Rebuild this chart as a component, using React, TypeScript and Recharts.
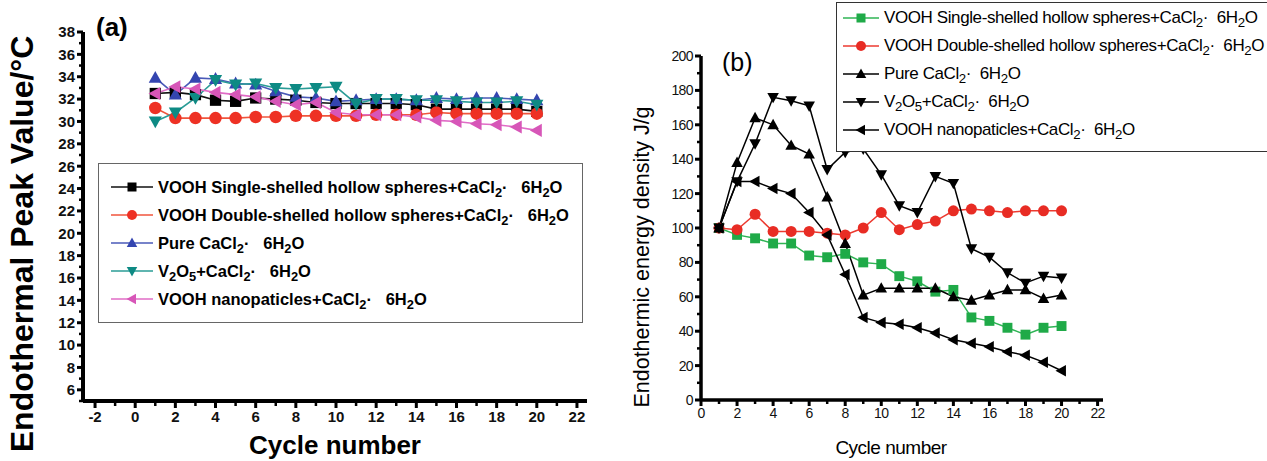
import React from 'react';
import { LineChart, Line, XAxis, YAxis, Legend } from 'recharts';

// cycle index shared by both panels
const cycles = [1, 2, 3, 4, 5, 6, 7, 8, 9, 10, 11, 12, 13, 14, 15, 16, 17, 18, 19, 20];

// (a) endothermal peak value, °C
const aSingle = [32.5, 32.6, 32.4, 31.9, 31.8, 32.1, 32.0, 31.9, 31.7, 31.6, 31.6, 31.6, 31.6, 31.5, 31.1, 31.1, 31.1, 31.1, 31.1, 30.9];
const aDouble = [31.2, 30.3, 30.3, 30.3, 30.3, 30.4, 30.4, 30.5, 30.5, 30.5, 30.5, 30.6, 30.6, 30.6, 30.8, 30.7, 30.7, 30.7, 30.7, 30.7];
const aPure = [33.9, 32.4, 33.9, 33.8, 33.4, 33.3, 32.7, 32.2, 32.1, 31.8, 31.9, 32.0, 32.0, 31.9, 32.1, 32.0, 32.1, 32.1, 32.0, 31.9];
const aV2O5 = [30.0, 30.8, 32.1, 33.7, 33.3, 33.4, 33.0, 32.9, 33.0, 33.1, 31.6, 32.0, 32.0, 31.9, 31.9, 31.8, 31.7, 31.7, 31.8, 31.5];
const aNano = [32.5, 33.1, 32.9, 32.6, 32.4, 32.2, 31.8, 31.5, 31.7, 30.8, 30.6, 30.6, 30.6, 30.4, 30.1, 30.0, 29.8, 29.7, 29.5, 29.2];

// (b) endothermic energy density, J/g
const bSingle = [100, 96, 94, 91, 91, 84, 83, 85, 80, 79, 72, 69, 63, 64, 48, 46, 42, 38, 42, 43];
const bDouble = [100, 99, 108, 98, 98, 98, 97, 96, 100, 109, 99, 102, 104, 110, 111, 110, 109, 110, 110, 110];
const bPure = [100, 138, 164, 160, 148, 143, 118, 91, 61, 65, 65, 65, 65, 60, 58, 61, 64, 64, 59, 61];
const bV2O5 = [100, 127, 149, 176, 174, 171, 134, 144, 146, 131, 113, 109, 130, 126, 88, 83, 74, 68, 72, 71];
const bNano = [100, 127, 127, 123, 120, 109, 96, 73, 48, 45, 44, 42, 39, 35, 33, 31, 28, 26, 22, 17];

// ticks
const aXTicks = [-2, 0, 2, 4, 6, 8, 10, 12, 14, 16, 18, 20, 22];
const aXMinor = [-1, 1, 3, 5, 7, 9, 11, 13, 15, 17, 19, 21];
const aYTicks = [6, 8, 10, 12, 14, 16, 18, 20, 22, 24, 26, 28, 30, 32, 34, 36, 38];
const aYMinor = [5, 7, 9, 11, 13, 15, 17, 19, 21, 23, 25, 27, 29, 31, 33, 35, 37];
const bXTicks = [0, 2, 4, 6, 8, 10, 12, 14, 16, 18, 20, 22];
const bXMinor = [1, 3, 5, 7, 9, 11, 13, 15, 17, 19, 21];
const bYTicks = [0, 20, 40, 60, 80, 100, 120, 140, 160, 180, 200];
const bYMinor = [10, 30, 50, 70, 90, 110, 130, 150, 170, 190];

const namesA = [
  'VOOH Single-shelled hollow spheres+CaCl2·   6H2O',
  'VOOH Double-shelled hollow spheres+CaCl2·   6H2O',
  'Pure CaCl2·   6H2O',
  'V2O5+CaCl2·   6H2O',
  'VOOH nanopaticles+CaCl2·   6H2O',
];
const namesB = [
  'VOOH Single-shelled hollow spheres+CaCl2·  6H2O',
  'VOOH Double-shelled hollow spheres+CaCl2·  6H2O',
  'Pure CaCl2·  6H2O',
  'V2O5+CaCl2·  6H2O',
  'VOOH nanopaticles+CaCl2·  6H2O',
];

const dataA = cycles.map((c, i) => ({
  cycle: c, single: aSingle[i], double: aDouble[i], pure: aPure[i], v2o5: aV2O5[i], nano: aNano[i],
}));
const dataB = cycles.map((c, i) => ({
  cycle: c, single: bSingle[i], double: bDouble[i], pure: bPure[i], v2o5: bV2O5[i], nano: bNano[i],
}));

type Shape = 'square' | 'circle' | 'up' | 'down' | 'left';
interface Series { key: string; name: string; line: string; fill: string; shape: Shape; }

const seriesA: Series[] = [
  { key: 'single', name: namesA[0], line: '#111', fill: '#000', shape: 'square' },
  { key: 'double', name: namesA[1], line: '#f0553c', fill: '#ee3124', shape: 'circle' },
  { key: 'pure', name: namesA[2], line: '#4a5ab8', fill: '#3445b0', shape: 'up' },
  { key: 'v2o5', name: namesA[3], line: '#2a9c96', fill: '#0e8a84', shape: 'down' },
  { key: 'nano', name: namesA[4], line: '#e06cc6', fill: '#d756b8', shape: 'left' },
];
const seriesB: Series[] = [
  { key: 'single', name: namesB[0], line: '#2fb455', fill: '#1faa48', shape: 'square' },
  { key: 'double', name: namesB[1], line: '#ec3a30', fill: '#e82c24', shape: 'circle' },
  { key: 'pure', name: namesB[2], line: '#000', fill: '#000', shape: 'up' },
  { key: 'v2o5', name: namesB[3], line: '#000', fill: '#000', shape: 'down' },
  { key: 'nano', name: namesB[4], line: '#000', fill: '#000', shape: 'left' },
];

const SANS = "'Liberation Sans', Arial, Helvetica, sans-serif";
const NARROW = "'Liberation Sans Narrow', 'Arial Narrow', 'Liberation Sans', Arial, sans-serif";

const Marker = ({ shape, cx, cy, size, fill }: { shape: Shape; cx: number; cy: number; size: number; fill: string }) => {
  const h = size / 2;
  if (cx == null || cy == null) return null;
  switch (shape) {
    case 'square':
      return <rect x={cx - h * 0.9} y={cy - h * 0.9} width={h * 1.8} height={h * 1.8} fill={fill} />;
    case 'circle':
      return <circle cx={cx} cy={cy} r={h} fill={fill} />;
    case 'up':
      return <polygon points={`${cx},${cy - h * 1.1} ${cx - h * 1.05},${cy + h * 0.8} ${cx + h * 1.05},${cy + h * 0.8}`} fill={fill} />;
    case 'down':
      return <polygon points={`${cx},${cy + h * 1.1} ${cx - h * 1.05},${cy - h * 0.8} ${cx + h * 1.05},${cy - h * 0.8}`} fill={fill} />;
    default:
      return <polygon points={`${cx - h * 1.1},${cy} ${cx + h * 0.8},${cy - h * 1.05} ${cx + h * 0.8},${cy + h * 1.05}`} fill={fill} />;
  }
};

// digits right after a letter become subscripts (CaCl2, H2O, V2O5)
const chem = (text: string) => {
  const parts: React.ReactNode[] = [];
  let buf = '';
  for (let i = 0; i < text.length; i++) {
    const ch = text[i];
    if (/[0-9]/.test(ch) && i > 0 && /[A-Za-z]/.test(text[i - 1])) {
      if (buf) parts.push(buf);
      buf = '';
      parts.push(<sub key={i} style={{ fontSize: '0.78em', verticalAlign: '-0.3em', lineHeight: 0 }}>{ch}</sub>);
    } else {
      buf += ch;
    }
  }
  if (buf) parts.push(buf);
  return parts;
};

const makeYTick = (majors: number[], font: React.CSSProperties, majorLen: number, minorLen: number) =>
  (props: any) => {
    const { x, y, payload } = props;
    const v = payload.value;
    const major = majors.includes(v);
    return (
      <g>
        <line x1={x} x2={x - (major ? majorLen : minorLen)} y1={y} y2={y} stroke="#000" strokeWidth={major ? 3 : 2.5} />
        {major && (
          <text x={x - majorLen - 2} y={y} dy="0.36em" textAnchor="end" fill="#111" style={font}>{v}</text>
        )}
      </g>
    );
  };

const makeXTick = (majors: number[], font: React.CSSProperties, majorLen: number, minorLen: number, gap: number) =>
  (props: any) => {
    const { x, y, payload } = props;
    const v = payload.value;
    const major = majors.includes(v);
    return (
      <g>
        <line x1={x} x2={x} y1={y} y2={y + (major ? majorLen : minorLen)} stroke="#000" strokeWidth={major ? 3 : 2.5} />
        {major && (
          <text x={x} y={y + majorLen + gap} dy="0.71em" textAnchor="middle" fill="#111" style={font}>{v}</text>
        )}
      </g>
    );
  };

// legend keeps the plotting order (recharts would sort it by name)
const makeLegend = (series: Series[], opts: { font: React.CSSProperties; row: number; padTop: number; padLeft: number; sample: number; markerSize: number; border: string; height: number }) =>
  () => (
    <div style={{ border: opts.border, background: '#fff', boxSizing: 'border-box', height: opts.height, paddingTop: opts.padTop, paddingLeft: opts.padLeft }}>
      {series.map((s) => (
        <div key={s.key} style={{ display: 'flex', alignItems: 'center', height: opts.row, whiteSpace: 'pre', ...opts.font }}>
          <svg width={opts.sample} height={16} style={{ marginRight: 5, flex: 'none' }}>
            <line x1={0} x2={opts.sample} y1={8} y2={8} stroke={s.line} strokeWidth={1.5} />
            <Marker shape={s.shape} cx={opts.sample / 2} cy={8} size={opts.markerSize} fill={s.fill} />
          </svg>
          <span>{chem(s.name)}</span>
        </div>
      ))}
    </div>
  );

const fontA: React.CSSProperties = { fontFamily: SANS, fontWeight: 700, fontSize: 15 };
const legendFontA: React.CSSProperties = { fontFamily: SANS, fontWeight: 700, fontSize: 16.5 };
const fontB: React.CSSProperties = { fontFamily: NARROW, fontWeight: 400, fontSize: 14, letterSpacing: -0.6 };

const PanelA = () => (
  <LineChart width={620} height={461} data={dataA} margin={{ top: 32, right: 33, bottom: 30, left: 0 }}>
    <XAxis
      dataKey="cycle" type="number" domain={[-2.6, 22.5]} ticks={[...aXTicks, ...aXMinor]} interval={0}
      height={30} tickSize={0} tickMargin={0} tickLine={false}
      axisLine={{ stroke: '#000', strokeWidth: 4 }}
      tick={makeXTick(aXTicks, fontA, 7, 5, 3)}
    />
    <YAxis
      type="number" domain={[5, 38]} ticks={[...aYTicks, ...aYMinor]} interval={0}
      width={83} tickSize={0} tickMargin={0} tickLine={false}
      axisLine={{ stroke: '#000', strokeWidth: 4 }}
      tick={makeYTick(aYTicks, fontA, 6, 4)}
    />
    <Legend
      layout="horizontal" verticalAlign="middle" align="center"
      wrapperStyle={{ left: 98, top: 163, width: 485 }}
      content={makeLegend(seriesA, { font: legendFontA, row: 28, padTop: 9, padLeft: 12, sample: 42, markerSize: 10, border: '1.5px solid #666', height: 160 })}
    />
    {seriesA.map((s) => (
      <Line
        key={s.key} dataKey={s.key} name={s.name} stroke={s.line} strokeWidth={1.6}
        isAnimationActive={false}
        dot={(p: any) => <Marker key={`${s.key}-${p.index}`} shape={s.shape} cx={p.cx} cy={p.cy} size={12.5} fill={s.fill} />}
        activeDot={false}
      />
    ))}
  </LineChart>
);

const PanelB = () => (
  <LineChart width={647} height={461} data={dataB} margin={{ top: 56, right: 164, bottom: 31, left: 0 }}>
    <XAxis
      dataKey="cycle" type="number" domain={[0, 22.3]} ticks={[...bXTicks, ...bXMinor]} interval={0}
      height={30} tickSize={0} tickMargin={0} tickLine={false}
      axisLine={{ stroke: '#000', strokeWidth: 3.5 }}
      tick={makeXTick(bXTicks, fontB, 6, 4, 2)}
    />
    <YAxis
      type="number" domain={[0, 200]} ticks={[...bYTicks, ...bYMinor]} interval={0}
      width={81} tickSize={0} tickMargin={0} tickLine={false}
      axisLine={{ stroke: '#000', strokeWidth: 3.5 }}
      tick={makeYTick(bYTicks, fontB, 6, 4)}
    />
    <Legend
      layout="horizontal" verticalAlign="middle" align="center"
      wrapperStyle={{ left: 216, top: 2, width: 520 }}
      content={makeLegend(seriesB, { font: { fontFamily: NARROW, fontSize: 17, letterSpacing: -0.4 }, row: 28, padTop: 1, padLeft: 6, sample: 36, markerSize: 10, border: '1.5px solid #333', height: 150 })}
    />
    {seriesB.map((s) => (
      <Line
        key={s.key} dataKey={s.key} name={s.name} stroke={s.line} strokeWidth={1.5}
        isAnimationActive={false}
        dot={(p: any) => <Marker key={`${s.key}-${p.index}`} shape={s.shape} cx={p.cx} cy={p.cy} size={11} fill={s.fill} />}
        activeDot={false}
      />
    ))}
  </LineChart>
);

export default function App() {
  return (
    <div style={{ position: 'absolute', left: 0, top: 0, width: 1267, height: 461, overflow: 'hidden', background: '#fff' }}>
      <div style={{ position: 'absolute', left: 0, top: 0 }}><PanelA /></div>
      <div style={{ position: 'absolute', left: 620, top: 0 }}><PanelB /></div>

      <div style={{ position: 'absolute', left: 96, top: 12, fontFamily: SANS, fontWeight: 700, fontSize: 26 }}>(a)</div>
      <div style={{ position: 'absolute', left: 722, top: 48, fontFamily: SANS, fontWeight: 400, fontSize: 25 }}>(b)</div>

      <div style={{ position: 'absolute', left: 22, top: 244, transform: 'translate(-50%, -50%) rotate(-90deg)', whiteSpace: 'nowrap', fontFamily: SANS, fontWeight: 700, fontSize: 32 }}>
        Endothermal Peak Value/°C
      </div>
      <div style={{ position: 'absolute', left: 335, top: 445, transform: 'translate(-50%, -50%)', whiteSpace: 'nowrap', fontFamily: SANS, fontWeight: 700, fontSize: 26 }}>
        Cycle number
      </div>
      <div style={{ position: 'absolute', left: 642, top: 257, transform: 'translate(-50%, -50%) rotate(-90deg)', whiteSpace: 'nowrap', fontFamily: SANS, fontSize: 21.5 }}>
        Endothermic energy density J/g
      </div>
      <div style={{ position: 'absolute', left: 891, top: 448, transform: 'translate(-50%, -50%)', whiteSpace: 'nowrap', fontFamily: NARROW, fontSize: 19, letterSpacing: -0.5 }}>
        Cycle number
      </div>
    </div>
  );
}
